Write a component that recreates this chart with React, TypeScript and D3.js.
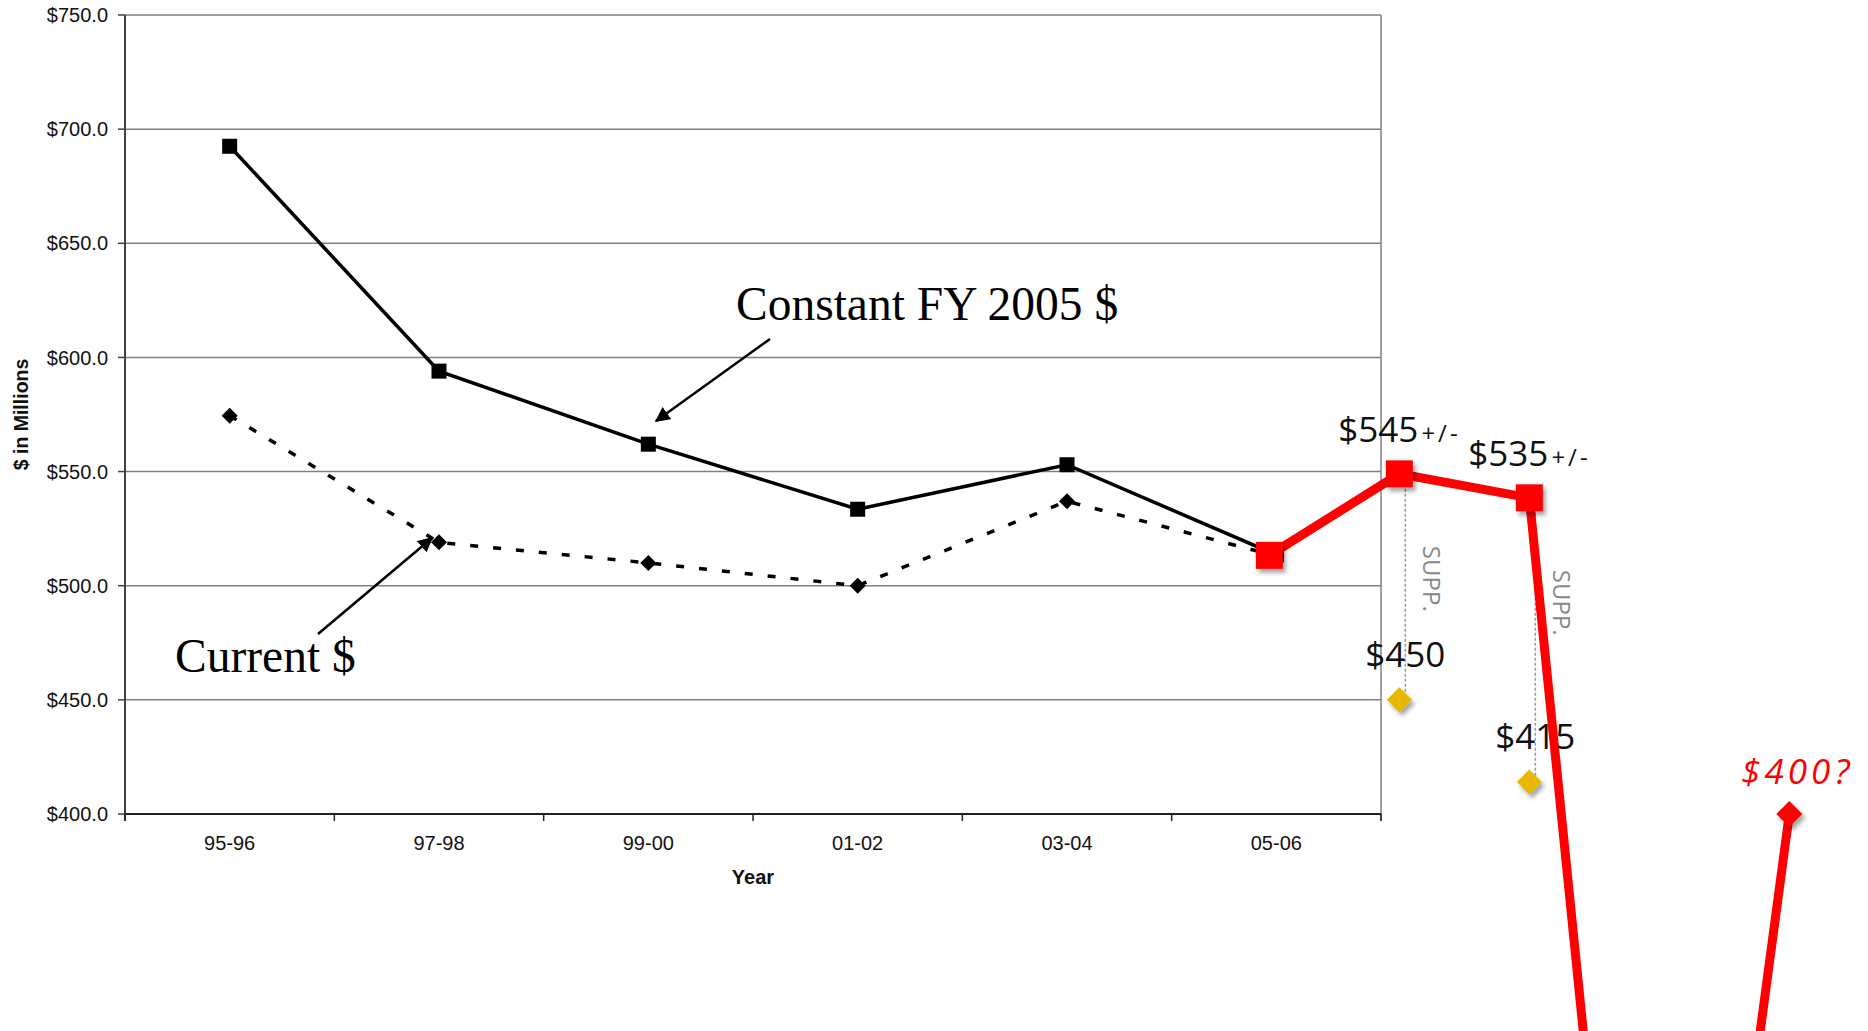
import React from "react";
import * as d3 from "d3";

const categories = ["95-96", "97-98", "99-00", "01-02", "03-04", "05-06"];
const constantValues = [692.5, 594, 562, 533.5, 553, 513.5];
const currentValues = [574.5, 519, 510, 500, 537, 513];
const yTicks = [400, 450, 500, 550, 600, 650, 700, 750];

// projection (red) series, drawn on its own step scale
const projectionSteps = [0, 1, 2, 3, 4];
const projectionValues = [513.3, 549, 538.5, -25, 400];
// supplemental (yellow) points
const suppSteps = [1, 2];
const suppValues = [450, 414];
const suppLabels = ["$450", "$415"];
const projLabels = [
  { step: 1, main: "$545", small: "+/-" },
  { step: 2, main: "$535", small: "+/-" },
];

const W = 1868;
const H = 1031;
const M = { left: 125, right: 1381, top: 15, bottom: 814 };

export default function App() {
  const x = d3.scaleBand<string>().domain(categories).range([M.left, M.right]);
  const cx = (c: string) => (x(c) as number) + x.bandwidth() / 2;
  const y = d3.scaleLinear().domain([400, 750]).range([M.bottom, M.top]);
  const xr = d3.scaleLinear().domain([0, 4]).range([cx("05-06") - 7, cx("05-06") + 513]);

  const lineGen = d3
    .line<number>()
    .x((_, i) => cx(categories[i]))
    .y((d) => y(d));
  const redLine = d3
    .line<number>()
    .x((_, i) => xr(projectionSteps[i]))
    .y((d) => y(d));

  const sansAxis = "'Liberation Sans', Arial, sans-serif";
  const sansLabel = "'Open Sans', 'Noto Sans', sans-serif";
  const serif = "'Liberation Serif', 'Times New Roman', serif";

  const boundaries = d3.range(categories.length + 1).map((i) => M.left + i * x.step());

  const diamond = (px: number, py: number, r: number) =>
    `M${px},${py - r}L${px + r},${py}L${px},${py + r}L${px - r},${py}Z`;

  return (
    <div>
      <style>{`body{margin:0;}`}</style>
      <svg width={W} height={H} style={{ display: "block", background: "#fff" }}>
        <defs>
          <filter id="shadow" x="-50%" y="-50%" width="200%" height="200%">
            <feDropShadow dx="3" dy="4" stdDeviation="2" floodColor="#000" floodOpacity="0.35" />
          </filter>
          <marker id="arrow" viewBox="0 0 10 10" refX="9" refY="5" markerWidth="6" markerHeight="6" orient="auto-start-reverse" markerUnits="strokeWidth">
            <path d="M0,0L10,5L0,10Z" fill="#000" />
          </marker>
        </defs>

        {/* gridlines */}
        {yTicks.map((t) => (
          <line key={t} x1={M.left} x2={M.right} y1={y(t)} y2={y(t)} stroke="#808080" strokeWidth={1.5} />
        ))}
        {/* right border */}
        <line x1={M.right} x2={M.right} y1={M.top} y2={M.bottom + 7} stroke="#808080" strokeWidth={1.5} />
        {/* y axis */}
        <line x1={M.left} x2={M.left} y1={M.top} y2={M.bottom + 7} stroke="#404040" strokeWidth={2} />
        {yTicks.map((t) => (
          <g key={"yt" + t}>
            <line x1={M.left - 7} x2={M.left} y1={y(t)} y2={y(t)} stroke="#404040" strokeWidth={1.5} />
            <text x={108} y={y(t)} dy="0.36em" textAnchor="end" fontFamily={sansAxis} fontSize={20} fill="#111">
              {d3.format("$.1f")(t)}
            </text>
          </g>
        ))}
        {/* x axis */}
        <line x1={M.left} x2={M.right} y1={M.bottom} y2={M.bottom} stroke="#222" strokeWidth={2} />
        {boundaries.map((b, i) => (
          <line key={"xt" + i} x1={b} x2={b} y1={M.bottom} y2={M.bottom + 7} stroke="#222" strokeWidth={1.5} />
        ))}
        {categories.map((c) => (
          <text key={c} x={cx(c)} y={850} textAnchor="middle" fontFamily={sansAxis} fontSize={20} fill="#111">
            {c}
          </text>
        ))}
        <text x={(M.left + M.right) / 2} y={884} textAnchor="middle" fontFamily={sansAxis} fontSize={20} fontWeight="bold" fill="#111">
          Year
        </text>
        <text transform={`translate(28,${(M.top + M.bottom) / 2}) rotate(-90)`} textAnchor="middle" fontFamily={sansAxis} fontSize={19.5} fontWeight="bold" fill="#111">
          $ in Millions
        </text>

        {/* current $ dashed */}
        <path d={lineGen(currentValues) as string} fill="none" stroke="#000" strokeWidth={3.5} strokeDasharray="8 15" />
        {currentValues.map((v, i) => (
          <path key={"cd" + i} d={diamond(cx(categories[i]), y(v), 8)} fill="#000" />
        ))}
        {/* constant $ solid */}
        <path d={lineGen(constantValues) as string} fill="none" stroke="#000" strokeWidth={3.5} />
        {constantValues.map((v, i) => (
          <rect key={"cs" + i} x={cx(categories[i]) - 7.5} y={y(v) - 7.5} width={15} height={15} fill="#000" />
        ))}

        {/* supplemental dashed connectors */}
        {suppSteps.map((s, i) => (
          <line
            key={"sl" + i}
            x1={xr(s) + 6}
            x2={xr(s) + 6}
            y1={y(projectionValues[s])}
            y2={y(suppValues[i])}
            stroke="#999"
            strokeWidth={1.5}
            strokeDasharray="3 2"
          />
        ))}
        {suppSteps.map((s, i) => (
          <text
            key={"st" + i}
            transform={`translate(${xr(s) + 24},${y(projectionValues[s]) + 72}) rotate(90)`}
            fontFamily={sansLabel}
            fontSize={24}
            fill="#888"
          >
            SUPP.
          </text>
        ))}

        {/* red projection line */}
        <path d={redLine(projectionValues) as string} fill="none" stroke="#FF0000" strokeWidth={9} strokeLinejoin="miter" />
        {projectionSteps.slice(0, 3).map((s) => (
          <rect
            key={"rs" + s}
            x={xr(s) - 13.5}
            y={y(projectionValues[s]) - 13.5}
            width={27}
            height={27}
            fill="#FF0000"
            filter="url(#shadow)"
          />
        ))}
        <path d={diamond(xr(4), y(projectionValues[4]), 13)} fill="#FF0000" filter="url(#shadow)" />

        {/* yellow supplemental diamonds */}
        {suppSteps.map((s, i) => (
          <path key={"yd" + i} d={diamond(xr(s), y(suppValues[i]), 12.5)} fill="#E6B800" filter="url(#shadow)" />
        ))}
        {suppSteps.map((s, i) => (
          <text
            key={"yl" + i}
            x={xr(s) + 6}
            y={y(suppValues[i]) - 33}
            textAnchor="middle"
            fontFamily={sansLabel}
            fontSize={35}
            fill="#111"
          >
            {suppLabels[i]}
          </text>
        ))}
        {projLabels.map((p) => (
          <text key={"pl" + p.step} x={xr(p.step) - 61} y={y(projectionValues[p.step]) - 32} fontFamily={sansLabel} fontSize={35} fill="#111">
            {p.main}
            <tspan fontSize={24} letterSpacing={3} dx={3}>
              {p.small}
            </tspan>
          </text>
        ))}
        <text
          x={xr(4) + 8}
          y={y(projectionValues[4]) - 30}
          textAnchor="middle"
          fontFamily={sansLabel}
          fontSize={35}
          fontStyle="italic"
          letterSpacing={4}
          fill="#FF0000"
        >
          $400?
        </text>

        {/* annotations */}
        <text x={736} y={320} fontFamily={serif} fontSize={47.5} fill="#000">
          Constant FY 2005 $
        </text>
        <line x1={770} y1={339} x2={656} y2={421} stroke="#000" strokeWidth={2.5} markerEnd="url(#arrow)" />
        <text x={175} y={672} fontFamily={serif} fontSize={47.5} fill="#000">
          Current $
        </text>
        <line x1={318} y1={634} x2={432} y2={538} stroke="#000" strokeWidth={2.5} markerEnd="url(#arrow)" />
      </svg>
    </div>
  );
}
